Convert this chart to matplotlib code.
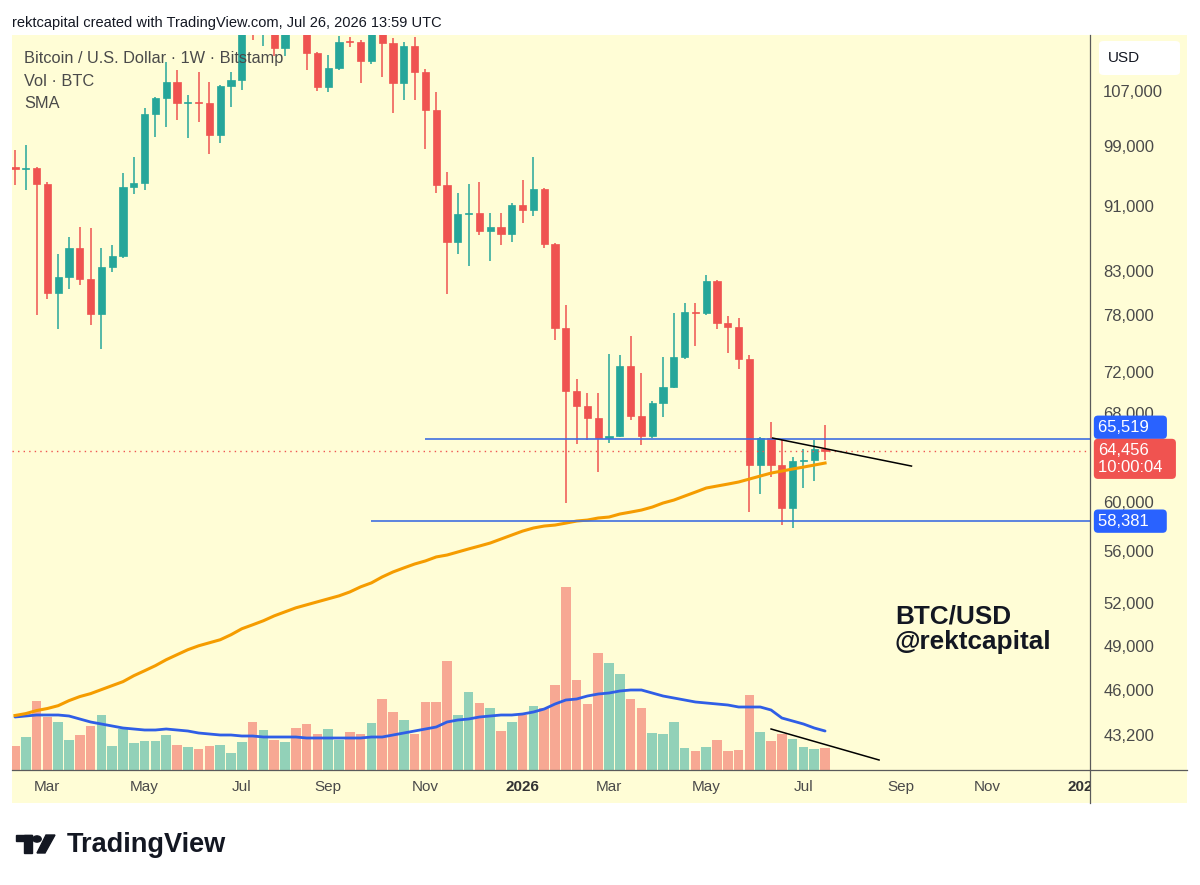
import matplotlib
matplotlib.use("Agg")
import matplotlib.pyplot as plt
import matplotlib.dates as mdates
import matplotlib.transforms as mtransforms
from matplotlib.patches import Rectangle, FancyBboxPatch, Circle, Polygon
from matplotlib.lines import Line2D
from matplotlib.ticker import NullLocator
import pandas as pd

plt.rcParams['font.family'] = ['Liberation Sans', 'DejaVu Sans']

# weekly BTC/USD candles (Bitstamp), first bar = week of 2025-02-10
first_week = "2025-02-10"
opens = [96100, 95800, 95950, 93850, 80500, 82350, 85750, 82100, 78150, 83500,
         84800, 93450, 94000, 103600, 105950, 108350, 105200, 105400, 105250, 100550,
         107750, 108650, 119100, 117400, 119400, 113600, 119300, 117400, 112900, 107600,
         110500, 114800, 114600, 111600, 123500, 114500, 108200, 114000, 109900, 104200,
         93750, 86500, 90000, 90150, 87850, 88350, 87500, 91150, 90500, 93200,
         86250, 76650, 70100, 68650, 67500, 65650, 65800, 72650, 67700, 65800,
         68950, 70500, 73550, 78350, 78250, 81850, 77150, 76750, 73350, 63200,
         65650, 63200, 59450, 63550, 63650, 64600]
highs = [98500, 99200, 96100, 94100, 85050, 87100, 88350, 88200, 85750, 86150,
         95300, 97500, 104450, 106100, 111450, 110200, 106400, 109900, 108350, 107900,
         109900, 119500, 123200, 120200, 119800, 119400, 124500, 117700, 113100, 112600,
         115600, 115500, 115000, 125700, 126200, 115300, 114600, 115500, 110300, 106850,
         95450, 92700, 93850, 94150, 90100, 90100, 91400, 94400, 97500, 93300,
         86400, 79150, 71300, 69900, 69900, 73900, 73750, 75750, 71900, 69150,
         73550, 78250, 79400, 79400, 82550, 81950, 77950, 77700, 73750, 65700,
         67150, 65450, 63900, 64600, 65450, 66850]
lows = [93700, 93100, 78000, 79800, 76500, 80950, 81400, 76950, 74400, 82900,
        84550, 92550, 93050, 100300, 101700, 102700, 100150, 102450, 97900, 99450,
        104600, 107150, 114900, 114000, 112400, 112400, 116900, 110200, 107000, 106850,
        110200, 113800, 108200, 111100, 109100, 103800, 105600, 105600, 98600, 92700,
        80400, 85050, 83600, 87350, 84200, 86150, 86500, 88850, 89700, 85750,
        75350, 59900, 65100, 65450, 62550, 65150, 65700, 67300, 65000, 65650,
        67600, 70400, 73400, 74700, 78050, 76500, 73950, 72350, 59150, 60650,
        62100, 58050, 57800, 61150, 61750, 63650]
closes = [95900, 95950, 93850, 80500, 82350, 85750, 82100, 78150, 83500, 84800,
          93450, 94000, 103600, 105950, 108350, 105200, 105400, 105250, 100550, 107750,
          108650, 119100, 117400, 119400, 113600, 119300, 117400, 112900, 107600, 110500,
          114600, 114600, 111600, 123500, 114500, 108200, 114000, 109900, 104200, 93750,
          86500, 90000, 90150, 87850, 88350, 87500, 91150, 90500, 93200, 86250,
          76650, 70100, 68650, 67500, 65650, 65800, 72650, 67700, 65800, 68950,
          70500, 73550, 78350, 78250, 81850, 77150, 76750, 73350, 63200, 65650,
          63200, 59450, 63550, 63650, 64600, 64456]
volume = [2400, 3300, 6900, 5300, 4800, 3000, 3500, 4400, 5500, 2400,
          4100, 2700, 2900, 2900, 3500, 2500, 2300, 2100, 2400, 2500,
          1700, 2800, 4800, 4000, 3000, 2800, 4200, 4600, 3600, 4100,
          3000, 3800, 3600, 4700, 7100, 5800, 5000, 3600, 6800, 6800,
          10900, 5500, 7800, 6700, 6200, 3900, 4800, 5500, 6400, 6200,
          8500, 18300, 9000, 6600, 11700, 10700, 9600, 7100, 6200, 3700,
          3600, 4800, 2200, 1900, 2300, 3000, 1900, 2000, 7500, 3800,
          2900, 3600, 3100, 2300, 2100, 2200]
vol_sma = [5300, 5400, 5500, 5500, 5500, 5400, 5100, 4800, 4600, 4400,
           4200, 4100, 4000, 4000, 4100, 4000, 3900, 3700, 3600, 3500,
           3500, 3400, 3400, 3300, 3300, 3300, 3300, 3200, 3200, 3200,
           3200, 3200, 3200, 3300, 3300, 3500, 3700, 3900, 4100, 4300,
           4800, 5000, 5100, 5300, 5400, 5500, 5500, 5600, 5800, 6100,
           6600, 7000, 7100, 7400, 7600, 7700, 7900, 8000, 8000, 7700,
           7400, 7200, 7000, 6800, 6700, 6600, 6500, 6300, 6300, 6300,
           6000, 5200, 4900, 4600, 4200, 3900]
price_sma = [44400, 44520, 44710, 44840, 45020, 45340, 45600, 45790, 46050, 46310,
             46570, 46960, 47290, 47630, 48030, 48370, 48710, 48980, 49190, 49400,
             49750, 50170, 50450, 50740, 51090, 51380, 51670, 51890, 52110, 52330,
             52550, 52840, 53220, 53520, 53970, 54350, 54660, 54960, 55200, 55510,
             55660, 55900, 56140, 56370, 56610, 56930, 57250, 57570, 57820, 57980,
             58060, 58220, 58390, 58470, 58640, 58720, 58970, 59130, 59300, 59550,
             59890, 60140, 60480, 60820, 61170, 61340, 61510, 61690, 61950, 62210,
             62470, 62650, 62830, 63000, 63180, 63360]

resist_level = 65519
support_level = 58381
last_price = 64456
countdown = "10:00:04"

# drawn trendlines: price (lower highs) and volume (declining)
price_trend_dates = ["2026-06-16", "2026-09-14"]
price_trend_vals = [65630, 63090]
vol_trend_dates = ["2026-06-15", "2026-08-24"]
vol_trend_vals = [4100, 1000]

price_ticks = [107000, 99000, 91000, 83000, 78000, 72000, 68000,
               60000, 56000, 52000, 49000, 46000, 43200]
month_ticks = ["2025-03-03", "2025-05-05", "2025-07-07", "2025-09-01", "2025-11-03",
               "2026-01-05", "2026-03-02", "2026-05-04", "2026-07-06", "2026-09-07",
               "2026-11-02", "2027-01-04"]
month_labels = ["Mar", "May", "Jul", "Sep", "Nov", "2026", "Mar", "May", "Jul",
                "Sep", "Nov", "2027"]

UP = '#26a69a'
DOWN = '#ef5350'
VOL_UP = '#92d1b8'
VOL_DOWN = '#f7a893'
BG = '#fffdd6'
TXT = '#4a4a4a'

W, H = 1200, 885


def fx(px):
    return px / W


def fy(py):
    return 1 - py / H


dates = pd.date_range(first_week, periods=len(opens), freq='7D')
xs = mdates.date2num(dates)
x_left = xs[0] - 1.94
x_right = xs[0] + 696.7

fig = plt.figure(figsize=(12, 8.85), dpi=100)
fig.patch.set_facecolor('white')
fig.add_artist(Rectangle((fx(12), fy(803)), fx(1187) - fx(12), fy(35) - fy(803),
                         transform=fig.transFigure, facecolor=BG, edgecolor='none', zorder=-5))

rect = [fx(12), fy(770), fx(1090) - fx(12), fy(35) - fy(770)]
vax = fig.add_axes(rect)
ax = fig.add_axes(rect, sharex=vax)
ax.patch.set_alpha(0)

# volume pane
vcol = [VOL_UP if c >= o else VOL_DOWN for o, c in zip(opens, closes)]
vax.bar(xs, volume, width=6.2, color=vcol, linewidth=0)
vax.plot(xs, vol_sma, color='#2f5ee6', lw=2.0, solid_capstyle='round')
vax.plot(mdates.date2num(pd.to_datetime(vol_trend_dates)), vol_trend_vals, color='black', lw=1.1)
vax.set_ylim(0, 73500)
vax.set_xlim(x_left, x_right)
vax.axis('off')

# candles
ccol = [UP if c >= o else DOWN for o, c in zip(opens, closes)]
ax.vlines(xs, lows, highs, colors=ccol, lw=1.1)
ax.bar(xs, [abs(c - o) for o, c in zip(opens, closes)],
       bottom=[min(o, c) for o, c in zip(opens, closes)],
       width=4.7, color=ccol, edgecolor=ccol, linewidth=0.5)
ax.plot(xs, price_sma, color='#f59c00', lw=2.2)

ax.hlines(resist_level, xs[38], x_right, color='#3f6fe0', lw=1.2)
ax.hlines(support_level, xs[33], x_right, color='#3f6fe0', lw=1.2)
ax.axhline(last_price, color=DOWN, lw=1, ls=(0, (1, 3)))
ax.plot(mdates.date2num(pd.to_datetime(price_trend_dates)), price_trend_vals, color='black', lw=1.1)

ax.set_yscale('log')
ax.set_ylim(41120, 115780)
ax.set_xlim(x_left, x_right)
ax.yaxis.tick_right()
ax.set_yticks(price_ticks)
ax.set_yticklabels([f"{t:,}" for t in price_ticks])
ax.yaxis.set_minor_locator(NullLocator())
ax.tick_params(axis='y', length=0, pad=9.5, labelsize=12, labelcolor=TXT)
ax.tick_params(axis='x', bottom=False, labelbottom=False)
for s in ax.spines.values():
    s.set_visible(False)

# price tags on the scale
trans = mtransforms.blended_transform_factory(ax.transAxes, ax.transData)


def price_tag(val, text, color, dy):
    ax.annotate(text, xy=(1, val), xycoords=trans, xytext=(8, dy), textcoords='offset pixels',
                ha='left', va='center', color='white', fontsize=12, linespacing=1.15,
                bbox=dict(boxstyle='round,pad=0.25', fc=color, ec='none'),
                annotation_clip=False)


price_tag(resist_level, f"{resist_level:,}   ", '#2962ff', 12)
price_tag(last_price, f"{last_price:,}\n{countdown}  ", '#f05350', -8)
price_tag(support_level, f"{support_level:,}   ", '#2962ff', 0)

# time scale
tax = fig.add_axes([fx(12), fy(803), fx(1090) - fx(12), fy(770) - fy(803)])
tax.set_xlim(x_left, x_right)
tax.set_ylim(0, 1)
tax.axis('off')
for d, lab in zip(month_ticks, month_labels):
    tax.text(mdates.date2num(pd.Timestamp(d)), 0.36, lab, ha='center', va='baseline',
             fontsize=11, color=TXT if not lab.isdigit() else '#333333',
             fontweight='bold' if lab.isdigit() else 'normal', clip_on=True)

# pane separators
fig.add_artist(Line2D([fx(1090), fx(1090)], [fy(35), fy(803)], transform=fig.transFigure,
                      color='#5a5a5a', lw=0.9, zorder=10))
fig.add_artist(Line2D([fx(12), fx(1187)], [fy(770), fy(770)], transform=fig.transFigure,
                      color='#5a5a5a', lw=0.9, zorder=10))

# currency button
fig.add_artist(FancyBboxPatch((fx(1099), fy(75)), fx(1180) - fx(1099), fy(41) - fy(75),
                              boxstyle='round,pad=0,rounding_size=0.004', transform=fig.transFigure,
                              facecolor='white', edgecolor='none', zorder=5))
fig.text(fx(1108), fy(58), "USD", ha='left', va='center', fontsize=11, color='#131722', zorder=6)

# header and legend
fig.text(fx(12), fy(23), "rektcapital created with TradingView.com, Jul 26, 2026 13:59 UTC",
         ha='left', va='center', fontsize=10.5, color='#131722')
fig.text(fx(24), fy(59), "Bitcoin / U.S. Dollar · 1W · Bitstamp", ha='left', va='center',
         fontsize=11.8, color=TXT)
fig.text(fx(24), fy(81), "Vol · BTC", ha='left', va='center', fontsize=11.8, color=TXT)
fig.text(fx(24), fy(103), "SMA", ha='left', va='center', fontsize=11.8, color=TXT)

# author note
fig.text(fx(895), fy(616), "BTC/USD", ha='left', va='center', fontsize=18.8,
         fontweight='bold', color='#131722')
fig.text(fx(895), fy(642), "@rektcapital", ha='left', va='center', fontsize=18.8,
         fontweight='bold', color='#131722')

# TradingView logo
logo = '#131722'
fig.add_artist(Rectangle((fx(16), fy(841)), fx(32) - fx(16), fy(835) - fy(841),
                         transform=fig.transFigure, color=logo))
fig.add_artist(Rectangle((fx(24), fy(853)), fx(32) - fx(24), fy(835) - fy(853),
                         transform=fig.transFigure, color=logo))
fig.add_artist(Circle((fx(37), fy(839)), 4.2 / W, transform=fig.transFigure, color=logo))
fig.add_artist(Polygon([(fx(46), fy(835)), (fx(55), fy(835)), (fx(45), fy(853)), (fx(37), fy(853))],
                       closed=True, transform=fig.transFigure, color=logo))
fig.text(fx(67), fy(845), "TradingView", ha='left', va='center', fontsize=19.5,
         fontweight='bold', color=logo)

fig.savefig('out.png', dpi=100, facecolor='white')
